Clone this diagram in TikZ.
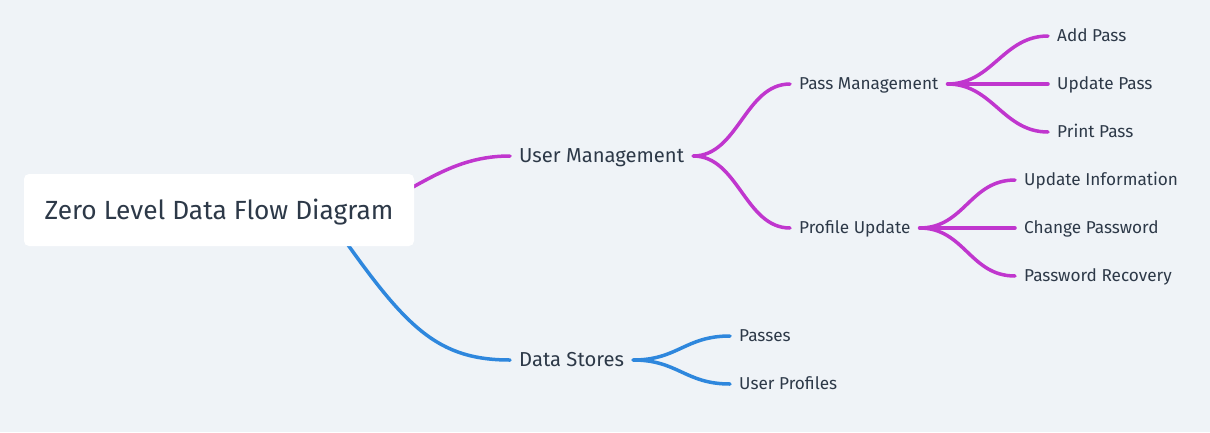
\documentclass[tikz,border=0pt]{standalone}
\usepackage{fontspec}
\setmainfont{Fira Sans}
\definecolor{bg}{RGB}{239,243,247}
\definecolor{txt}{RGB}{45,57,72}
\definecolor{mag}{RGB}{192,54,206}
\definecolor{blu}{RGB}{46,135,221}
\begin{document}
\begin{tikzpicture}[x=1pt,y=-1pt,
  conn/.style={line width=3.5pt,line cap=round},
  magc/.style={conn,draw=mag},
  bluc/.style={conn,draw=blu},
  rootbox/.style={fill=white,rounded corners=5pt,minimum width=390pt,minimum height=72pt,inner sep=0pt,
    text height=18.1pt,text depth=0pt,text=txt,font=\fontsize{26.3}{30}\selectfont},
  lvlone/.style={anchor=west,inner xsep=9pt,inner ysep=0pt,text height=13.9pt,text depth=0pt,
    text=txt,font=\fontsize{20.2}{24}\selectfont},
  lvltwo/.style={anchor=west,inner xsep=9pt,inner ysep=0pt,text height=11.9pt,text depth=0pt,
    text=txt,font=\fontsize{17.2}{20}\selectfont},
]
\useasboundingbox (0,0) rectangle (1210,432);
\fill[bg] (0,0) rectangle (1210,432);

% hidden start points of the main branches
\coordinate (rm) at (330,225);
\coordinate (rb) at (320,205);

% level-1 nodes
\node[lvlone] (um) at (510,156) {User Management};
\node[lvlone] (ds) at (510,360) {Data Stores};

% main branches (drawn first, partly hidden by the root box)
\draw[magc] (rm) .. controls (410,200) and (440,156) .. (um.west);
\draw[bluc] (rb) .. controls (400,320) and (430,360) .. (ds.west);

% root
\node[rootbox] (root) at (219,210) {Zero Level Data Flow Diagram};

% level-2 nodes
\node[lvltwo] (pm) at (790,84) {Pass Management};
\node[lvltwo] (pu) at (790,228) {Profile Update};
\node[lvltwo] (ps) at (730,336) {Passes};
\node[lvltwo] (up) at (730,384) {User Profiles};

% level-3 nodes
\node[lvltwo] (ap) at (1048,36) {Add Pass};
\node[lvltwo] (upd) at (1048,84) {Update Pass};
\node[lvltwo] (pp) at (1048,132) {Print Pass};
\node[lvltwo] (ui) at (1015,180) {Update Information};
\node[lvltwo] (cp) at (1015,228) {Change Password};
\node[lvltwo] (pr) at (1015,276) {Password Recovery};

% connectors
\draw[magc] (um.east) .. controls +(45,0) and +(-45,0) .. (pm.west);
\draw[magc] (um.east) .. controls +(45,0) and +(-45,0) .. (pu.west);

\draw[magc] (pm.east) .. controls +(45,0) and +(-45,0) .. (ap.west);
\draw[magc] (pm.east) -- (upd.west);
\draw[magc] (pm.east) .. controls +(45,0) and +(-45,0) .. (pp.west);

\draw[magc] (pu.east) .. controls +(45,0) and +(-45,0) .. (ui.west);
\draw[magc] (pu.east) -- (cp.west);
\draw[magc] (pu.east) .. controls +(45,0) and +(-45,0) .. (pr.west);

\draw[bluc] (ds.east) .. controls +(45,0) and +(-45,0) .. (ps.west);
\draw[bluc] (ds.east) .. controls +(45,0) and +(-45,0) .. (up.west);
\end{tikzpicture}
\end{document}
